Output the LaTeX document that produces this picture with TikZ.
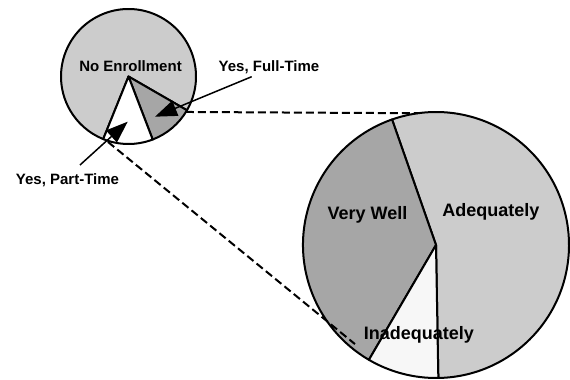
\documentclass[tikz,border=0pt]{standalone}
\usepackage{fontspec}
\setmainfont{Liberation Sans}
\usetikzlibrary{arrows.meta}
\definecolor{pielight}{HTML}{CCCCCC}
\definecolor{piedark}{HTML}{A6A6A6}
\definecolor{piepale}{HTML}{F7F7F7}

\begin{document}
\begin{tikzpicture}[x=1pt, y=1pt,
		wedge/.style={draw=black, line width=2pt, line join=round},
		smalllbl/.style={font=\bfseries\fontsize{15}{18}\selectfont, anchor=base, inner sep=0pt},
		biglbl/.style={font=\bfseries\fontsize{18}{21}\selectfont, anchor=base, inner sep=0pt},
		pointer/.style={line width=1.5pt, -{Triangle[length=22pt, width=16pt]}},
		link/.style={line width=2pt, dash pattern=on 8pt off 4pt}]
		\useasboundingbox (0, 0) rectangle (570, 380);
		\coordinate (S) at (128.5, 303.5);
		\coordinate (B) at (436, 135);
		% enrollment pie
		\filldraw[wedge, fill=pielight] (S) -- ++(-30:67.5) arc[start angle=-30, end angle=248, radius=67.5] -- cycle;
		\filldraw[wedge, fill=piedark] (S) -- ++(-69:67.5) arc[start angle=-69, end angle=-30, radius=67.5] -- cycle;
		\filldraw[wedge, fill=white] (S) -- ++(-112:67.5) arc[start angle=-112, end angle=-69, radius=67.5] -- cycle;
		% preparation pie
		\filldraw[wedge, fill=pielight] (B) -- ++(-89:133) arc[start angle=-89, end angle=109.3, radius=133] -- cycle;
		\filldraw[wedge, fill=piedark] (B) -- ++(109.3:133) arc[start angle=109.3, end angle=239.7, radius=133] -- cycle;
		\filldraw[wedge, fill=piepale] (B) -- ++(239.7:133) arc[start angle=239.7, end angle=271, radius=133] -- cycle;
		% links between the pies
		\path (S) ++(-31.7:67.5) coordinate (stop);
		\path (S) ++(252.6:68.6) coordinate (sbot);
		\path (B) ++(97.8:133) coordinate (btop);
		\path (B) ++(230.7:128) coordinate (bbot);
		\draw[link] (stop) -- (btop);
		\draw[link] (sbot) -- (bbot);
		% labels
		\node[smalllbl] (noenr) at (130.5, 308.3) {No Enrollment};
		\node[smalllbl] (fulltime) at (269, 308.3) {Yes, Full-Time};
		\node[smalllbl] (parttime) at (67.5, 195) {Yes, Part-Time};
		\node[biglbl] (verywell) at (367.5, 160.7) {Very Well};
		\node[biglbl] (adequate) at (490.8, 163.3) {Adequately};
		\node[biglbl] (inadequate) at (418.8, 40) {Inadequately};
		% pointers
		\coordinate (ftail) at (251.7, 303.3);
		\coordinate (fhead) at (155, 263.3);
		\coordinate (ptail) at (80, 215);
		\coordinate (phead) at (127.7, 258.3);
		\draw[pointer] (ftail) -- (fhead);
		\draw[pointer] (ptail) -- (phead);
	\end{tikzpicture}
\end{document}
